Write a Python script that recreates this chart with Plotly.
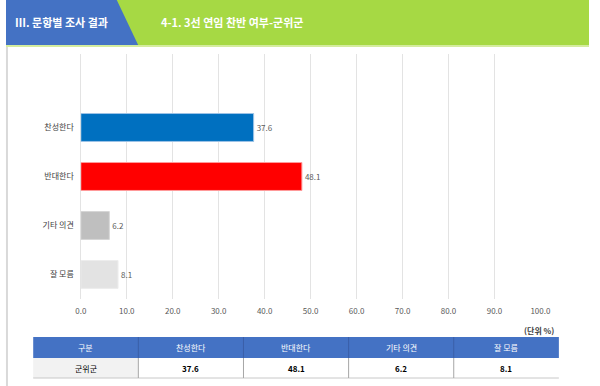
import plotly.graph_objects as go

W, H = 600, 386

section_title = "Ⅲ. 문항별 조사 결과"
chart_title = "4-1. 3선 연임 찬반 여부-군위군"
categories = ["찬성한다", "반대한다", "기타 의견", "잘 모름"]
values = [37.6, 48.1, 6.2, 8.1]
bar_colors = ["#0070C0", "#FF0000", "#BFBFBF", "#E3E3E3"]
bar_edges = ["#9DC3E6", "#FF9B9B", "#D6D6D6", "#EDEDED"]
x_ticks = [0, 10, 20, 30, 40, 50, 60, 70, 80, 90, 100]
unit_label = "(단위 %)"
table_header = ["구분"] + categories
region = "군위군"

FONT = "Noto Sans CJK KR"


def px(x):
    return x / W


def py(y):
    return 1 - y / H


fig = go.Figure()
fig.add_trace(go.Bar(
    x=values, y=categories, orientation="h",
    marker=dict(color=bar_colors, line=dict(color=bar_edges, width=1)),
    width=0.57,
    text=[f"{v:.1f}" for v in values], textposition="outside",
    textfont=dict(size=8, color="#595959", family=FONT),
    cliponaxis=False, hoverinfo="skip",
))

shapes = []
annotations = []

# header band
shapes.append(dict(type="rect", xref="paper", yref="paper", x0=0, x1=1,
                   y0=py(47), y1=py(45), fillcolor="#D4EC9E", line=dict(width=0), layer="below"))
shapes.append(dict(type="rect", xref="paper", yref="paper", x0=0, x1=1,
                   y0=py(45), y1=py(0), fillcolor="#A6D944", line=dict(width=0), layer="below"))
shapes.append(dict(type="path", xref="paper", yref="paper",
                   path=f"M 0 {py(0)} L {px(114)} {py(0)} L {px(136)} {py(45)} L 0 {py(45)} Z",
                   fillcolor="#4472C4", line=dict(width=0), layer="below"))
# left border
shapes.append(dict(type="line", xref="paper", yref="paper", x0=px(1), x1=px(1),
                   y0=py(47), y1=0, line=dict(color="#D9D9D9", width=2)))

annotations.append(dict(text=f"<b>{section_title}</b>", x=px(7), y=py(22), xref="paper", yref="paper",
                        xanchor="left", yanchor="middle", showarrow=False,
                        font=dict(size=11, color="white", family=FONT)))
annotations.append(dict(text=f"<b>{chart_title}</b>", x=px(157), y=py(22), xref="paper", yref="paper",
                        xanchor="left", yanchor="middle", showarrow=False,
                        font=dict(size=11, color="white", family=FONT)))

annotations.append(dict(text=f"<b>{unit_label}</b>", x=px(566), y=py(330), xref="paper", yref="paper",
                        xanchor="right", yanchor="middle", showarrow=False,
                        font=dict(size=8, color="#404040", family=FONT)))

# table
t_left, t_right = 28, 569
col_w = (t_right - t_left) / len(table_header)
h_top, h_bot, d_bot = 337, 358, 378
shapes.append(dict(type="rect", xref="paper", yref="paper", x0=px(t_left), x1=px(t_right),
                   y0=py(h_bot), y1=py(h_top), fillcolor="#4472C4", line=dict(width=0)))
shapes.append(dict(type="rect", xref="paper", yref="paper", x0=px(t_left), x1=px(t_left + col_w),
                   y0=py(d_bot), y1=py(h_bot), fillcolor="#F2F2F2", line=dict(width=0)))
shapes.append(dict(type="line", xref="paper", yref="paper", x0=px(t_left), x1=px(t_right),
                   y0=py(d_bot), y1=py(d_bot), line=dict(color="#C8C8C8", width=1)))
for i in range(1, len(table_header)):
    xs = px(t_left + i * col_w)
    shapes.append(dict(type="line", xref="paper", yref="paper", x0=xs, x1=xs,
                       y0=py(h_bot), y1=py(h_top), line=dict(color="#3A5FA8", width=1)))
    shapes.append(dict(type="line", xref="paper", yref="paper", x0=xs, x1=xs,
                       y0=py(d_bot), y1=py(h_bot), line=dict(color="#A6A6A6", width=1)))

row_vals = [region] + [f"{v:.1f}" for v in values]
for i, (hd, rv) in enumerate(zip(table_header, row_vals)):
    cx = px(t_left + (i + 0.5) * col_w)
    annotations.append(dict(text=hd, x=cx, y=py((h_top + h_bot) / 2), xref="paper", yref="paper",
                            xanchor="center", yanchor="middle", showarrow=False,
                            font=dict(size=8, color="white", family=FONT)))
    annotations.append(dict(text=rv if i == 0 else f"<b>{rv}</b>", x=cx, y=py((h_bot + d_bot) / 2),
                            xref="paper", yref="paper", xanchor="center", yanchor="middle",
                            showarrow=False, font=dict(size=8, color="#000000", family=FONT)))

fig.update_layout(
    width=W, height=H, margin=dict(l=0, r=0, t=0, b=0),
    paper_bgcolor="white", plot_bgcolor="white",
    showlegend=False, shapes=shapes, annotations=annotations,
    font=dict(family=FONT),
    xaxis=dict(domain=[px(77), px(550)], range=[0, 100], tickvals=x_ticks,
               ticktext=[f"{t:.1f}" for t in x_ticks],
               showgrid=True, gridcolor="#E3E3E3", gridwidth=1,
               zeroline=True, zerolinecolor="#E3E3E3", zerolinewidth=1,
               showline=False, ticks="", ticklabelstandoff=6,
               tickfont=dict(size=8, color="#595959", family=FONT), fixedrange=True),
    yaxis=dict(domain=[py(299), py(54)], type="category", categoryorder="array",
               categoryarray=categories, range=[3.5, -1.5], showgrid=False, zeroline=False,
               showline=False, ticks="", ticklabelstandoff=6,
               tickfont=dict(size=8, color="#404040", family=FONT), fixedrange=True),
)

fig.write_html(
    "out.html",
    config={"displayModeBar": False},
    post_script="document.body.style.margin='0';document.body.style.overflow='hidden';"
                "document.documentElement.style.overflow='hidden';",
)
